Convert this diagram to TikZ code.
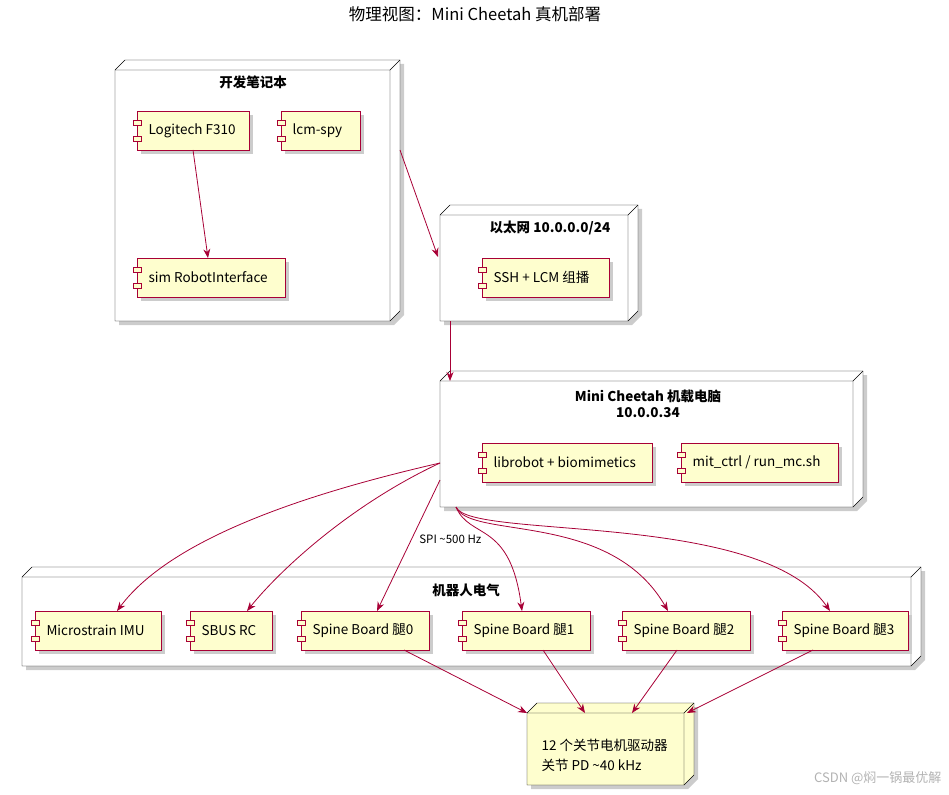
\documentclass[tikz,border=0pt]{standalone}
\usepackage{fontspec}
\setmainfont{Noto Sans CJK SC}
\usetikzlibrary{arrows.meta}
\definecolor{bd}{HTML}{A80036}
\definecolor{cf}{HTML}{FEFECE}
\tikzset{
  lbl/.style={font=\fontsize{13.5}{15}\selectfont},
  ttl/.style={font=\fontsize{13.5}{16}\selectfont\bfseries},
  arr/.style={draw=bd,line width=0.8pt,-{Stealth[length=9pt,width=7pt]}},
}
\newcommand{\comp}[6]{%
  \fill[black!20] (#2+4,#3+4) rectangle (#4+4,#5+4);
  \draw[bd,fill=cf] (#2,#3) rectangle (#4,#5);
  \draw[bd,fill=cf] (#2-4,#3+9) rectangle (#2+4,#3+14);
  \draw[bd,fill=cf] (#2-4,#3+25) rectangle (#2+4,#3+30);
  \node[lbl,anchor=west] (#1) at (#2+8,{(#3+#5)/2}) {#6};
  \coordinate (#1-n) at ({(#2+#4)/2},#3);
  \coordinate (#1-s) at ({(#2+#4)/2},#5);
}
\newcommand{\dbox}[6]{%
  \fill[black!20] (#4+10,#3-6) -- (#4+14,#3-6) -- (#4+14,#5-6) -- (#4+4,#5+4) -- (#2+4,#5+4) -- (#2+4,#5) -- (#4,#5) -- (#4+10,#5-10) -- cycle;
  \draw[black,fill=#6] (#2,#3) -- (#2+10,#3-10) -- (#4+10,#3-10) -- (#4+10,#5-10) -- (#4,#5) -- (#2,#5) -- cycle;
  \draw[black] (#2,#3) -- (#4,#3) -- (#4,#5) (#4,#3) -- (#4+10,#3-10);
  \coordinate (#1) at (#2,#3);
}
\begin{document}
\begin{tikzpicture}[x=1pt,y=-1pt]
\useasboundingbox (0,0) rectangle (949,794);
\node[font=\fontsize{16.5}{18}\selectfont] (title) at (475,14) {物理视图：Mini Cheetah 真机部署};

\dbox{laptop}{115}{70}{390}{321}{white}
\node[ttl] (laptopT) at (253,82) {开发笔记本};
\comp{f310}{137}{111}{249}{150}{Logitech F310}
\comp{spy}{281}{111}{360}{150}{lcm-spy}
\comp{sim}{137}{258}{285}{297}{sim RobotInterface}

\dbox{eth}{440}{215}{628}{321}{white}
\node[ttl] (ethT) at (550,228) {以太网 10.0.0.0/24};
\comp{ssh}{482}{258}{609}{297}{SSH + LCM 组播}

\dbox{mc}{440}{381}{853}{507}{white}
\node[ttl,align=center] (mcT) at (648,404) {Mini Cheetah 机载电脑\\10.0.0.34};
\comp{lib}{482}{443}{652}{482}{librobot + biomimetics}
\comp{mit}{681}{443}{838}{482}{mit\_ctrl / run\_mc.sh}

\dbox{elec}{22}{577}{911}{666}{white}
\node[ttl] (elecT) at (466,590) {机器人电气};
\comp{imu}{35}{611}{161}{650}{Microstrain IMU}
\comp{sbus}{190}{611}{272}{650}{SBUS RC}
\comp{sp0}{301}{611}{429}{650}{Spine Board 腿0}
\comp{sp1}{462}{611}{590}{650}{Spine Board 腿1}
\comp{sp2}{622}{611}{750}{650}{Spine Board 腿2}
\comp{sp3}{782}{611}{908}{650}{Spine Board 腿3}

\dbox{mot}{527}{713}{684}{785}{cf}
\node[lbl,align=left,anchor=west,font=\fontsize{13.5}{20}\selectfont] (motT) at (538,755) {12 个关节电机驱动器\\关节 PD \textasciitilde 40 kHz};

\coordinate (lapR) at (400,150);
\coordinate (ethL) at (438,257);
\coordinate (ethB) at (450,321);
\coordinate (mcT1) at (450,381);
\coordinate (mcA) at (440,463);
\coordinate (mcB) at (440,480);
\coordinate (mcC) at (456,507);
\coordinate (imuE) at (117,611);
\coordinate (sbusE) at (247,611);
\coordinate (sp0E) at (377,611);
\coordinate (sp1E) at (522,611);
\coordinate (sp2E) at (668,611);
\coordinate (sp3E) at (830,611);
\draw[arr] (f310-s) -- (208,258);
\draw[arr] (lapR) -- (ethL);
\draw[arr] (ethB) -- (mcT1);
\draw[arr] (mcA) .. controls (300,495) and (170,540) .. (imuE);
\draw[arr] (mcA) .. controls (350,505) and (280,570) .. (sbusE);
\draw[arr] (mcB) -- node[pos=0.45,right=4pt,font=\fontsize{11.5}{13}\selectfont] (spi) {SPI \textasciitilde 500 Hz} (sp0E);
\draw[arr] (mcC) .. controls (470,540) and (510,520) .. (sp1E);
\draw[arr] (mcC) .. controls (470,540) and (610,510) .. (sp2E);
\draw[arr] (mcC) .. controls (470,540) and (760,510) .. (sp3E);
\coordinate (m1) at (527,713);
\coordinate (m2) at (585,713);
\coordinate (m3) at (632,713);
\coordinate (m4) at (687,713);
\draw[arr] (404,650) -- (m1);
\draw[arr] (543,650) -- (m2);
\draw[arr] (677,650) -- (m3);
\draw[arr] (813,650) -- (m4);
\node[font=\fontsize{13}{14}\selectfont,text=black!30,anchor=east] (wm) at (945,778) {CSDN @焖一锅最优解};
\end{tikzpicture}
\end{document}
